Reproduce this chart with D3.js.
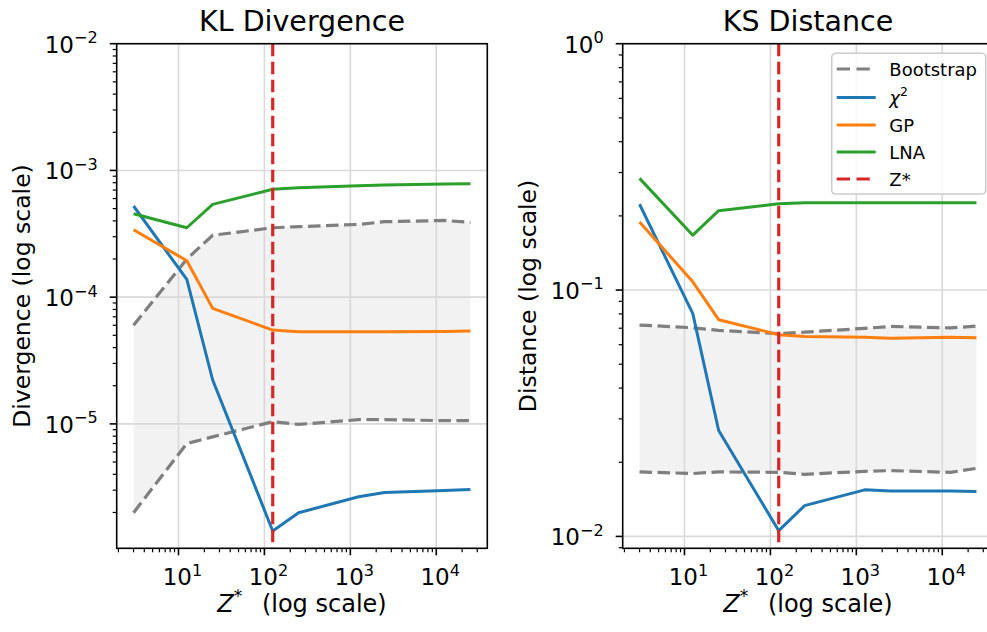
<!DOCTYPE html>
<html>
<head>
<meta charset="utf-8">
<script src="https://cdn.jsdelivr.net/npm/d3@7"></script>
<style>
  body { margin: 0; background: #fff; }
  svg text { font-family: "DejaVu Sans", sans-serif; fill: #000; }
</style>
</head>
<body>
<svg id="chart"></svg>
<script>
const width = 987, height = 632;

// Data: Z* values on x, one series per method
const zValues = [3, 12.5, 25, 125, 250, 1250, 2500, 12500, 25000];
const zStar = 125;

const klBootLow  = [1.99e-6, 7.0e-6, 7.9e-6, 1.04e-5, 9.9e-6, 1.08e-5, 1.08e-5, 1.06e-5, 1.06e-5];
const klBootHigh = [6.0e-5, 2.0e-4, 3.08e-4, 3.53e-4, 3.6e-4, 3.75e-4, 3.94e-4, 4.03e-4, 3.89e-4];
const klChi2     = [5.24e-4, 1.38e-4, 2.22e-5, 1.43e-6, 1.99e-6, 2.66e-6, 2.88e-6, 2.98e-6, 3.04e-6];
const klGP       = [3.4e-4, 1.94e-4, 8.16e-5, 5.5e-5, 5.33e-5, 5.33e-5, 5.33e-5, 5.36e-5, 5.4e-5];
const klLNA      = [4.55e-4, 3.53e-4, 5.4e-4, 7.1e-4, 7.3e-4, 7.57e-4, 7.67e-4, 7.8e-4, 7.86e-4];

const ksBootLow  = [0.01827, 0.0180, 0.01827, 0.0182, 0.01787, 0.01837, 0.0185, 0.0182, 0.0189];
const ksBootHigh = [0.0721, 0.0703, 0.0686, 0.0665, 0.0675, 0.0699, 0.0712, 0.0702, 0.0714];
const ksChi2     = [0.223, 0.0802, 0.0269, 0.01055, 0.01333, 0.01545, 0.0153, 0.0153, 0.0152];
const ksGP       = [0.189, 0.108, 0.0758, 0.0659, 0.0648, 0.0643, 0.0638, 0.0643, 0.0641];
const ksLNA      = [0.284, 0.167, 0.21, 0.224, 0.226, 0.226, 0.226, 0.226, 0.226];

const legendLabels = ["Bootstrap", "χ2", "GP", "LNA", "Z*"];

const colors = { boot: "#7f7f7f", chi2: "#1f77b4", gp: "#ff7f0e", lna: "#2ca02c", zstar: "#d62728" };

const svg = d3.select("#chart")
    .attr("width", width)
    .attr("height", height)
    .attr("viewBox", [0, 0, width, height]);

const plotTop = 43.7, plotBottom = 548.3, plotW = 370.6;
const tickFont = 23;

// log-space margins like matplotlib's 5% autoscale
function logExtent(values, pad) {
    const lo = Math.log10(d3.min(values)), hi = Math.log10(d3.max(values));
    const m = (hi - lo) * pad;
    return [Math.pow(10, lo - m), Math.pow(10, hi + m)];
}

const xExtent = logExtent(zValues, 0.05);

function supLabel(sel, exp, fontSize) {
    sel.append("tspan").text("10");
    sel.append("tspan")
        .attr("font-size", fontSize * 0.7)
        .attr("dy", -fontSize * 0.42)
        .text(exp < 0 ? "\u2212" + (-exp) : String(exp));
}

function drawPanel(opts) {
    const { left, title, ylabel, yTop, series, id } = opts;
    const allVals = [].concat(series.bootLow, series.bootHigh, series.chi2, series.gp, series.lna);
    const yLow = logExtent(allVals, 0.05)[0];

    const x = d3.scaleLog().domain(xExtent).range([left, left + plotW]);
    const y = d3.scaleLog().domain([yLow, yTop]).range([plotBottom, plotTop]);

    const g = svg.append("g");

    svg.append("defs").append("clipPath").attr("id", "clip-" + id)
        .append("rect").attr("x", left).attr("y", plotTop)
        .attr("width", plotW).attr("height", plotBottom - plotTop);

    const plot = g.append("g").attr("clip-path", `url(#clip-${id})`);

    // Bootstrap band
    const area = d3.area()
        .x((d, i) => x(zValues[i]))
        .y0((d, i) => y(series.bootLow[i]))
        .y1(d => y(d));
    plot.append("path").attr("d", area(series.bootHigh))
        .attr("fill", "#f2f2f2");

    // Gridlines at decades
    const xMajors = d3.range(0, 6).map(k => Math.pow(10, k)).filter(v => v >= xExtent[0] && v <= xExtent[1]);
    const yMajors = d3.range(-7, 1).map(k => Math.pow(10, k)).filter(v => v >= yLow && v <= yTop * 1.0001);
    plot.append("g").selectAll("line").data(xMajors).enter().append("line")
        .attr("x1", d => x(d)).attr("x2", d => x(d))
        .attr("y1", plotTop).attr("y2", plotBottom)
        .attr("stroke", "#d9d9d9").attr("stroke-width", 1.6);
    plot.append("g").selectAll("line").data(yMajors).enter().append("line")
        .attr("x1", left).attr("x2", left + plotW)
        .attr("y1", d => y(d)).attr("y2", d => y(d))
        .attr("stroke", "#d9d9d9").attr("stroke-width", 1.6);

    const line = d3.line().x((d, i) => x(zValues[i])).y(d => y(d));

    plot.append("path").attr("d", line(series.bootHigh))
        .attr("fill", "none").attr("stroke", colors.boot).attr("stroke-width", 3.2)
        .attr("stroke-dasharray", "12.5,5.5");
    plot.append("path").attr("d", line(series.bootLow))
        .attr("fill", "none").attr("stroke", colors.boot).attr("stroke-width", 3.2)
        .attr("stroke-dasharray", "12.5,5.5");

    [["chi2", colors.chi2], ["gp", colors.gp], ["lna", colors.lna]].forEach(([k, c]) => {
        plot.append("path").attr("d", line(series[k]))
            .attr("fill", "none").attr("stroke", c).attr("stroke-width", 3)
            .attr("stroke-linejoin", "round");
    });

    // Z* marker
    plot.append("line")
        .attr("x1", x(zStar)).attr("x2", x(zStar))
        .attr("y1", plotTop).attr("y2", plotBottom)
        .attr("stroke", colors.zstar).attr("stroke-width", 3.2)
        .attr("stroke-dasharray", "12.5,5.5");

    // Frame
    g.append("rect").attr("x", left).attr("y", plotTop)
        .attr("width", plotW).attr("height", plotBottom - plotTop)
        .attr("fill", "none").attr("stroke", "#000").attr("stroke-width", 1.6);

    // x ticks
    const xMinors = [];
    for (let k = 0; k < 5; k++) for (let m = 2; m < 10; m++) {
        const v = m * Math.pow(10, k);
        if (v >= xExtent[0] && v <= xExtent[1]) xMinors.push(v);
    }
    g.append("g").selectAll("line").data(xMinors).enter().append("line")
        .attr("x1", d => x(d)).attr("x2", d => x(d))
        .attr("y1", plotBottom).attr("y2", plotBottom + 4)
        .attr("stroke", "#000").attr("stroke-width", 1.2);
    g.append("g").selectAll("line").data(xMajors).enter().append("line")
        .attr("x1", d => x(d)).attr("x2", d => x(d))
        .attr("y1", plotBottom).attr("y2", plotBottom + 7)
        .attr("stroke", "#000").attr("stroke-width", 1.6);
    g.append("g").selectAll("text").data(xMajors).enter().append("text")
        .attr("x", d => x(d) + 4).attr("y", plotBottom + 37)
        .attr("text-anchor", "middle").attr("font-size", tickFont)
        .each(function (d) { supLabel(d3.select(this), Math.round(Math.log10(d)), tickFont); });

    // y ticks
    const yMinors = [];
    for (let k = -7; k < 1; k++) for (let m = 2; m < 10; m++) {
        const v = m * Math.pow(10, k);
        if (v >= yLow && v <= yTop) yMinors.push(v);
    }
    g.append("g").selectAll("line").data(yMinors).enter().append("line")
        .attr("x1", left - 4).attr("x2", left)
        .attr("y1", d => y(d)).attr("y2", d => y(d))
        .attr("stroke", "#000").attr("stroke-width", 1.2);
    g.append("g").selectAll("line").data(yMajors).enter().append("line")
        .attr("x1", left - 7).attr("x2", left)
        .attr("y1", d => y(d)).attr("y2", d => y(d))
        .attr("stroke", "#000").attr("stroke-width", 1.6);
    g.append("g").selectAll("text").data(yMajors).enter().append("text")
        .attr("x", left - 19).attr("y", d => y(d) + 9)
        .attr("text-anchor", "end").attr("font-size", tickFont)
        .each(function (d) { supLabel(d3.select(this), Math.round(Math.log10(d)), tickFont); });

    // Titles and labels
    g.append("text").attr("x", left + plotW / 2).attr("y", 30.7)
        .attr("text-anchor", "middle").attr("font-size", 28.5).text(title);

    const xl = g.append("text").attr("x", left + plotW / 2).attr("y", 612)
        .attr("text-anchor", "middle").attr("font-size", 24);
    xl.append("tspan").attr("font-style", "italic").text("Z");
    xl.append("tspan").attr("font-size", 17).attr("dy", -10).text("*");
    xl.append("tspan").attr("dy", 10).text("\u2002 (log scale)");

    g.append("text")
        .attr("transform", `translate(${left - 87},${(plotTop + plotBottom) / 2}) rotate(-90)`)
        .attr("text-anchor", "middle").attr("font-size", 23.5).text(ylabel);
}

drawPanel({
    id: "kl", left: 116.7, title: "KL Divergence", ylabel: "Divergence (log scale)", yTop: 1e-2,
    series: { bootLow: klBootLow, bootHigh: klBootHigh, chi2: klChi2, gp: klGP, lna: klLNA }
});
drawPanel({
    id: "ks", left: 622.7, title: "KS Distance", ylabel: "Distance (log scale)", yTop: 1,
    series: { bootLow: ksBootLow, bootHigh: ksBootHigh, chi2: ksChi2, gp: ksGP, lna: ksLNA }
});

// Legend
const legendItems = [
    { label: legendLabels[0], color: colors.boot, dash: true },
    { label: legendLabels[1], color: colors.chi2, dash: false },
    { label: legendLabels[2], color: colors.gp, dash: false },
    { label: legendLabels[3], color: colors.lna, dash: false },
    { label: legendLabels[4], color: colors.zstar, dash: true }
];
const rowY = [69, 97.5, 125, 152, 179];
const legend = svg.append("g");
legend.append("rect")
    .attr("x", 831.7).attr("y", 53.3).attr("width", 154).attr("height", 140.7)
    .attr("rx", 4).attr("fill", "#fff").attr("fill-opacity", 0.8)
    .attr("stroke", "#cccccc").attr("stroke-width", 1.6);
legendItems.forEach((d, i) => {
    legend.append("line")
        .attr("x1", 836.7).attr("x2", 875.7)
        .attr("y1", rowY[i]).attr("y2", rowY[i])
        .attr("stroke", d.color).attr("stroke-width", 3.2)
        .attr("stroke-dasharray", d.dash ? "13.3,6.5" : null);
    const t = legend.append("text")
        .attr("x", 889.3).attr("y", rowY[i] + 6.5)
        .attr("font-size", 18);
    if (d.label === "χ2") {
        t.append("tspan").attr("font-style", "italic").text("χ");
        t.append("tspan").attr("font-size", 12.5).attr("dy", -8).text("2");
    } else {
        t.text(d.label);
    }
});
</script>
</body>
</html>
